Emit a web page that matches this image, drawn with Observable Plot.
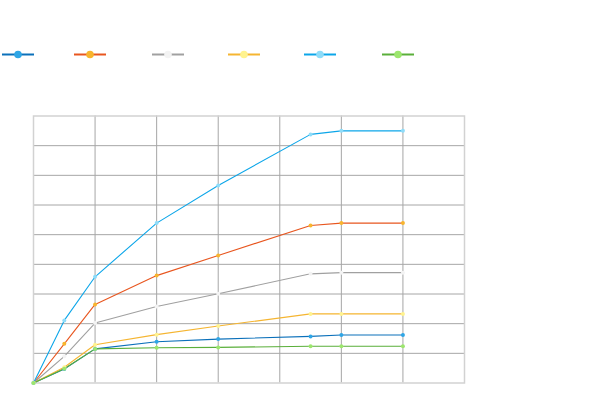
<!DOCTYPE html>
<html>
<head>
<meta charset="utf-8">
<script src="https://cdn.jsdelivr.net/npm/d3@7"></script>
<script src="https://cdn.jsdelivr.net/npm/@observablehq/plot@0.6"></script>
<style>
  html, body { margin: 0; padding: 0; background: #fff; }
  #wrap { position: relative; width: 600px; height: 402px; font-family: "Liberation Sans", Arial, sans-serif; }
  #legend { position: absolute; left: 0; top: 0; width: 600px; height: 110px; }
  #chart { position: absolute; left: 0; top: 0; }
</style>
</head>
<body>
<div id="wrap">
  <div id="chart"></div>
  <svg id="legend" width="600" height="110"></svg>
</div>
<script>
// x positions (time units) and series values
const xs = [0, 0.5, 1, 2, 3, 4.5, 5, 6];
const series1 = [0, 0.47, 1.15, 1.39, 1.48, 1.57, 1.62, 1.62];
const series2 = [0, 1.32, 2.65, 3.62, 4.30, 5.31, 5.39, 5.39];
const series3 = [0, 0.90, 2.02, 2.58, 3.01, 3.68, 3.72, 3.72];
const series4 = [0, 0.53, 1.29, 1.63, 1.92, 2.33, 2.33, 2.33];
const series5 = [0, 2.11, 3.58, 5.39, 6.66, 8.38, 8.50, 8.50];
const series6 = [0, 0.48, 1.15, 1.19, 1.20, 1.24, 1.24, 1.24];

const seriesNames = ["s1", "s2", "s3", "s4", "s5", "s6"];
const lineColors = ["#0b70ba", "#e8561f", "#a0a0a0", "#f5b531", "#0ca6e9", "#5aaf3a"];
const markerColors = ["#2fa6e6", "#f8b52e", "#f3f3f3", "#fff38f", "#8edcf9", "#9ce66d"];
const xTicks = [1, 2, 3, 4, 5, 6];
const yTicks = [1, 2, 3, 4, 5, 6, 7, 8];

const allValues = [series1, series2, series3, series4, series5, series6];
const rows = [];
allValues.forEach((vals, i) => {
  vals.forEach((v, j) => rows.push({series: seriesNames[i], x: xs[j], y: v}));
});

const colorScale = {domain: seriesNames, range: lineColors};

const plot = Plot.plot({
  width: 600,
  height: 402,
  marginLeft: 33,
  marginRight: 136,
  marginTop: 115.5,
  marginBottom: 19.5,
  x: {domain: [0, 7], axis: null},
  y: {domain: [0, 9], axis: null},
  color: colorScale,
  style: {background: "#fff"},
  marks: [
    Plot.ruleX(xTicks, {stroke: "#a6a6a6", strokeWidth: 1}),
    Plot.ruleY(yTicks, {stroke: "#a6a6a6", strokeWidth: 1}),
    Plot.frame({stroke: "#d2d2d2", strokeWidth: 1.5}),
    Plot.line(rows, {x: "x", y: "y", z: "series", stroke: "series", strokeWidth: 1.1}),
    Plot.dot(rows, {x: "x", y: "y", r: 2, fill: d => markerColors[seriesNames.indexOf(d.series)], stroke: "none"})
  ]
});
document.getElementById("chart").appendChild(plot);

// legend (positions are layout only)
const legendLeft = [2, 74, 152, 228, 304, 382];
const lg = d3.select("#legend");
seriesNames.forEach((s, i) => {
  const g = lg.append("g").attr("transform", `translate(${legendLeft[i]},54.5)`);
  g.append("line").attr("x1", 0).attr("x2", 32).attr("y1", 0).attr("y2", 0)
    .attr("stroke", lineColors[i]).attr("stroke-width", 2);
  g.append("circle").attr("cx", 16).attr("cy", 0).attr("r", 3.8)
    .attr("fill", markerColors[i]);
});
</script>
</body>
</html>
